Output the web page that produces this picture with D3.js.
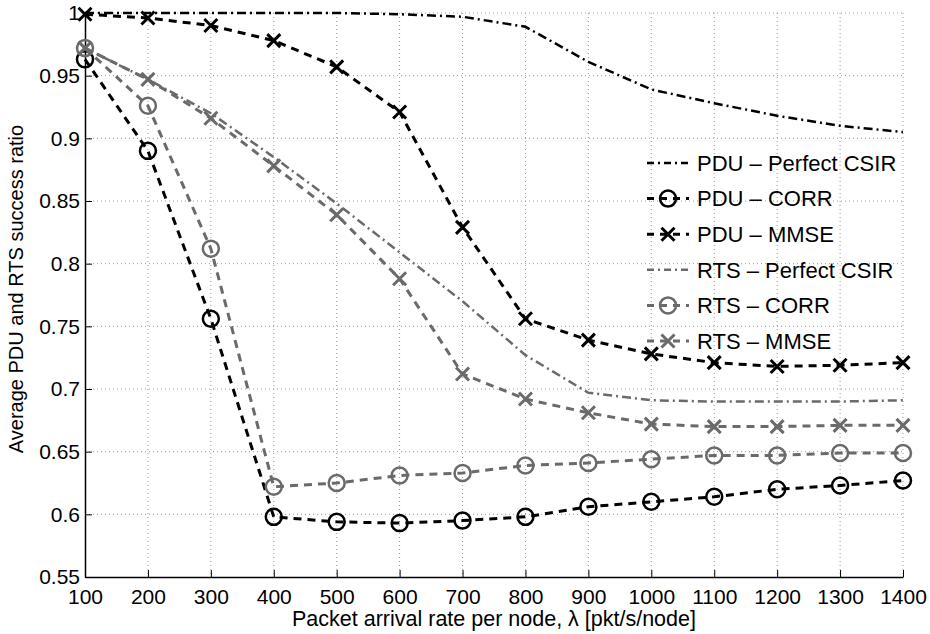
<!DOCTYPE html>
<html>
<head>
<meta charset="utf-8">
<script src="https://cdn.jsdelivr.net/npm/d3@7"></script>
<style>
  body { margin: 0; background: #fff; }
  text { font-family: "Liberation Sans", Arial, sans-serif; fill: #000; }
</style>
</head>
<body>
<div id="chart"></div>
<script>
// Data
const lambdas = [100, 200, 300, 400, 500, 600, 700, 800, 900, 1000, 1100, 1200, 1300, 1400];
const pduPerfect = [1.0, 1.0, 1.0, 1.0, 1.0, 0.999, 0.997, 0.989, 0.961, 0.939, 0.928, 0.918, 0.910, 0.905];
const pduCorr = [0.963, 0.890, 0.756, 0.598, 0.594, 0.593, 0.595, 0.598, 0.606, 0.610, 0.614, 0.620, 0.623, 0.627];
const pduMmse = [0.999, 0.996, 0.990, 0.978, 0.957, 0.921, 0.829, 0.756, 0.739, 0.728, 0.721, 0.718, 0.719, 0.721];
const rtsPerfect = [0.972, 0.947, 0.920, 0.885, 0.848, 0.809, 0.770, 0.727, 0.697, 0.691, 0.690, 0.690, 0.690, 0.691];
const rtsCorr = [0.972, 0.926, 0.812, 0.622, 0.625, 0.631, 0.633, 0.639, 0.641, 0.644, 0.647, 0.647, 0.649, 0.649];
const rtsMmse = [0.972, 0.947, 0.916, 0.878, 0.839, 0.788, 0.712, 0.692, 0.681, 0.672, 0.670, 0.670, 0.671, 0.671];

const yTicks = [0.55, 0.6, 0.65, 0.7, 0.75, 0.8, 0.85, 0.9, 0.95, 1];
const xTicks = lambdas;

const gray = "#6a6a6a";
const series = [
  {name: "PDU \u2013 Perfect CSIR", values: pduPerfect, color: "#000", dash: "9,4,2,4", width: 2.5, marker: null},
  {name: "PDU \u2013 CORR", values: pduCorr, color: "#000", dash: "8,6", width: 3, marker: "circle"},
  {name: "PDU \u2013 MMSE", values: pduMmse, color: "#000", dash: "8,6", width: 3, marker: "x"},
  {name: "RTS \u2013 Perfect CSIR", values: rtsPerfect, color: gray, dash: "9,4,2,4", width: 2.5, marker: null},
  {name: "RTS \u2013 CORR", values: rtsCorr, color: gray, dash: "8,6", width: 3, marker: "circle"},
  {name: "RTS \u2013 MMSE", values: rtsMmse, color: gray, dash: "8,6", width: 3, marker: "x"}
];

const width = 930;
const height = 634;
const margin = {top: 13, right: 27, bottom: 57, left: 85};
const w = width - margin.left - margin.right;
const h = height - margin.top - margin.bottom;

const svg = d3.select("#chart")
  .append("svg")
  .attr("width", width)
  .attr("height", height)
  .append("g")
  .attr("transform", `translate(${margin.left},${margin.top})`);

const x = d3.scaleLinear().domain([100, 1400]).range([0, w]);
const y = d3.scaleLinear().domain([0.55, 1]).range([h, 0]);

// Grid
const grid = svg.append("g").attr("class", "grid");
grid.selectAll(".gx")
  .data(xTicks.slice(1))
  .enter().append("line")
  .attr("x1", d => x(d)).attr("x2", d => x(d))
  .attr("y1", 0).attr("y2", h)
  .attr("stroke", "#999").attr("stroke-width", 1).attr("stroke-dasharray", "1,3");
grid.selectAll(".gy")
  .data(yTicks.slice(1))
  .enter().append("line")
  .attr("x1", 0).attr("x2", w)
  .attr("y1", d => y(d)).attr("y2", d => y(d))
  .attr("stroke", "#999").attr("stroke-width", 1).attr("stroke-dasharray", "1,3");

// Axes
const xAxis = svg.append("g")
  .attr("transform", `translate(0,${h})`)
  .call(d3.axisBottom(x).tickValues(xTicks).tickSizeInner(-7).tickSizeOuter(0).tickPadding(12).tickFormat(d3.format("d")));
const yAxis = svg.append("g")
  .call(d3.axisLeft(y).tickValues(yTicks).tickSizeInner(-7).tickSizeOuter(0).tickPadding(5).tickFormat(d => d3.format("")(+d.toFixed(2))));

[xAxis, yAxis].forEach(a => {
  a.select(".domain").attr("stroke", "#000").attr("stroke-width", 1.5);
  a.selectAll(".tick line").attr("stroke", "#000");
  a.selectAll(".tick text")
    .style("font-family", "'Liberation Sans', Arial, sans-serif")
    .style("font-size", "21px")
    .attr("fill", "#000");
});

// Lines and markers
const line = d3.line()
  .x((d, i) => x(lambdas[i]))
  .y(d => y(d));

function drawMarker(g, type, color, cx, cy) {
  if (type === "circle") {
    g.append("circle")
      .attr("cx", cx).attr("cy", cy).attr("r", 8)
      .attr("fill", "none").attr("stroke", color).attr("stroke-width", 2.5);
  } else if (type === "x") {
    const s = 6.5;
    g.append("path")
      .attr("d", `M${cx - s},${cy - s}L${cx + s},${cy + s}M${cx - s},${cy + s}L${cx + s},${cy - s}`)
      .attr("stroke", color).attr("stroke-width", 3).attr("fill", "none");
  }
}

const plot = svg.append("g");
series.forEach(s => {
  plot.append("path")
    .datum(s.values)
    .attr("d", line)
    .attr("fill", "none")
    .attr("stroke", s.color)
    .attr("stroke-width", s.width)
    .attr("stroke-dasharray", s.dash);
  if (s.marker) {
    const mg = plot.append("g");
    s.values.forEach((v, i) => drawMarker(mg, s.marker, s.color, x(lambdas[i]), y(v)));
  }
});

// Legend
const legend = svg.append("g")
  .attr("transform", `translate(${647 - margin.left},${163 - margin.top})`);
series.forEach((s, i) => {
  const ly = i * 35.6;
  legend.append("line")
    .attr("x1", 0).attr("x2", 42)
    .attr("y1", ly).attr("y2", ly)
    .attr("stroke", s.color)
    .attr("stroke-width", s.width)
    .attr("stroke-dasharray", s.marker ? "7,6" : "7,4,2,4");
  if (s.marker) drawMarker(legend, s.marker, s.color, 21, ly);
  legend.append("text")
    .attr("x", 50)
    .attr("y", ly)
    .attr("dy", "0.35em")
    .style("font-size", "22px")
    .text(s.name);
});

// Axis titles
svg.append("text")
  .attr("x", w / 2)
  .attr("y", h + 49)
  .attr("text-anchor", "middle")
  .style("font-size", "21.5px")
  .text("Packet arrival rate per node, \u03bb [pkt/s/node]");

svg.append("text")
  .attr("transform", "rotate(-90)")
  .attr("x", -h / 2 + 6)
  .attr("y", -62)
  .attr("text-anchor", "middle")
  .style("font-size", "20px")
  .text("Average PDU and RTS success ratio");
</script>
</body>
</html>
